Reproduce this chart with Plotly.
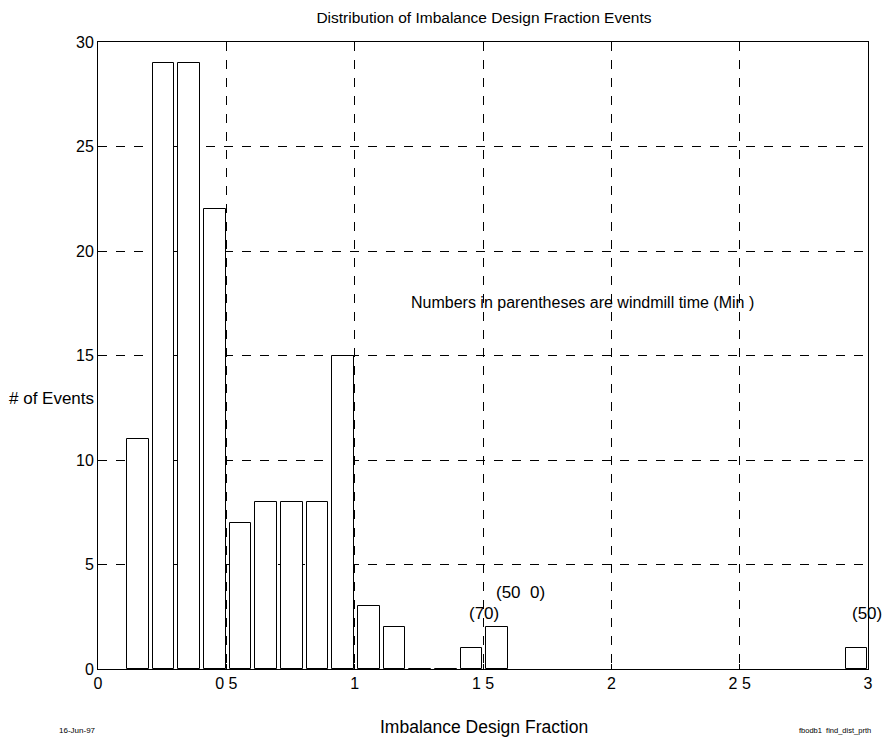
import plotly.graph_objects as go

bin_centers = [0.155, 0.255, 0.355, 0.455, 0.555, 0.655, 0.755, 0.855, 0.955,
               1.055, 1.155, 1.255, 1.355, 1.455, 1.555, 2.955]
counts = [11, 29, 29, 22, 7, 8, 8, 8, 15, 3, 2, 0, 0, 1, 2, 1]

x_tick_vals = [0, 0.5, 1, 1.5, 2, 2.5, 3]
x_tick_text = ["0", "0 5", "1", "1 5", "2", "2 5", "3"]
y_tick_vals = [0, 5, 10, 15, 20, 25, 30]

note_x = [1.505, 1.645, 2.995]
note_y = [2.65, 3.65, 2.65]
note_text = ["(70)", "(50  0)", "(50)"]

font = "Liberation Sans, Arial, sans-serif"

fig = go.Figure()
fig.add_trace(go.Bar(
    x=bin_centers, y=counts, width=0.085,
    marker=dict(color="white", line=dict(color="black", width=1)),
    showlegend=False,
))

for xv, yv, t in zip(note_x, note_y, note_text):
    fig.add_annotation(x=xv, y=yv, text=t, showarrow=False,
                       font=dict(family=font, size=17, color="black"))

fig.add_annotation(x=1.886, y=17.55, text="Numbers in parentheses are windmill time (Min )",
                   showarrow=False, font=dict(family=font, size=16, color="black"))

fig.add_annotation(xref="paper", yref="paper", x=-0.003, y=0.432, xanchor="right",
                   text="# of Events", showarrow=False,
                   font=dict(family=font, size=17, color="black"))
fig.add_annotation(xref="paper", yref="paper", x=0.501, y=-0.0925, yanchor="middle",
                   text="Imbalance Design Fraction", showarrow=False,
                   font=dict(family=font, size=17.5, color="black"))
fig.add_annotation(xref="paper", yref="paper", x=-0.027, y=-0.108, xanchor="center",
                   text="16-Jun-97", showarrow=False,
                   font=dict(family=font, size=8, color="black"))
fig.add_annotation(xref="paper", yref="paper", x=0.957, y=-0.108, xanchor="center",
                   text="fbodb1  find_dist_prth", showarrow=False,
                   font=dict(family=font, size=7.5, color="black"))

fig.update_layout(
    width=888, height=747,
    margin=dict(l=98, r=20, t=42, b=78),
    paper_bgcolor="white", plot_bgcolor="white",
    title=dict(text="Distribution of Imbalance Design Fraction Events",
               x=0.545, xanchor="center", y=0.977, yanchor="middle",
               font=dict(family=font, size=15.5, color="black")),
    bargap=0,
)
fig.update_xaxes(range=[0, 3], tickvals=x_tick_vals, ticktext=x_tick_text,
                 showgrid=True, gridcolor="black", griddash="dash", gridwidth=1,
                 showline=True, linecolor="black", linewidth=1, mirror=True,
                 zeroline=False, ticks="inside", ticklen=5, tickcolor="black",
                 tickfont=dict(family=font, size=16, color="black"))
fig.update_yaxes(range=[0, 30], tickvals=y_tick_vals,
                 showgrid=True, gridcolor="black", griddash="dash", gridwidth=1,
                 showline=True, linecolor="black", linewidth=1, mirror=True,
                 zeroline=False, ticks="inside", ticklen=5, tickcolor="black",
                 tickfont=dict(family=font, size=16, color="black"))

fig.write_html("out.html")
